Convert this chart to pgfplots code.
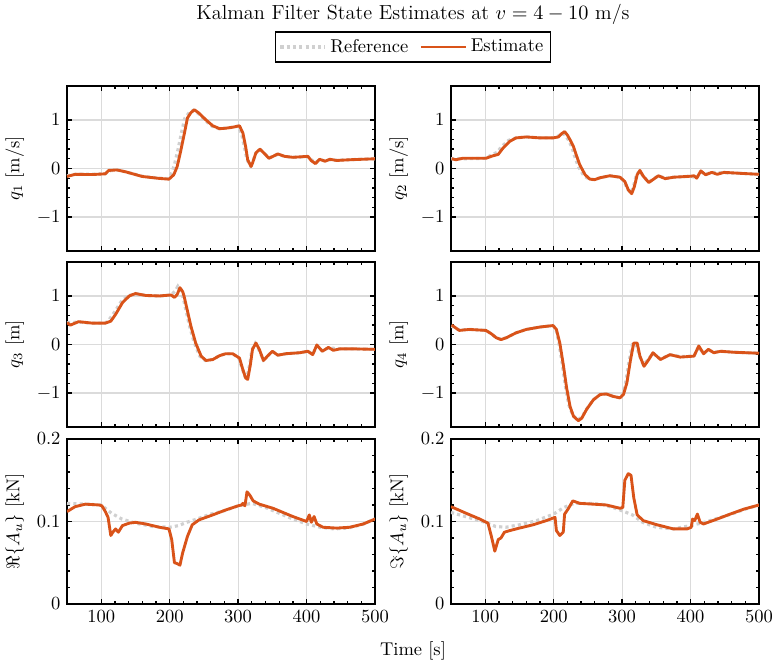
\documentclass[border=0pt]{standalone}
\usepackage{pgfplots}
\pgfplotsset{compat=1.18}
\definecolor{estc}{RGB}{217,83,25}
\definecolor{refc}{RGB}{208,208,208}
\pgfplotsset{
  panel/.style={scale only axis, width=166.32pt, height=89.1pt,
    xmin=50, xmax=500, xtick={100,200,300,400,500}, minor x tick num=4,
    grid=major, major grid style={color=black!14, line width=0.65pt},
    tick align=inside, major tick length=2.6pt, minor tick length=1.5pt,
    axis line style={line width=1pt},
    every tick/.style={black, line width=0.7pt},
    no markers, clip=true, anchor=north west,
    ylabel style={font=\fontsize{10}{12}\selectfont},
    legend image code/.code={\draw[#1] (0cm,0cm) -- (0.85cm,0cm);}},
  qpanel/.style={panel, ymin=-1.7, ymax=1.7, ytick={-1,0,1}, minor y tick num=4},
  apanel/.style={panel, ymin=0, ymax=0.2, ytick={0,0.1,0.2}, yticklabels={0,0.1,0.2}, minor y tick num=4},
  est/.style={color=estc, line width=1.55pt, line join=round},
  ref/.style={color=refc, line width=1.7pt, dash pattern=on 1.7pt off 1.7pt},
}
\begin{document}
\begin{tikzpicture}
\useasboundingbox (0,0) rectangle (418.5pt,360.18pt);
\node[font=\fontsize{11}{13}\selectfont] at (223pt,352.6pt) {Kalman Filter State Estimates at $v = 4-10$ m/s};
\node[font=\fontsize{10}{12}\selectfont] at (223pt,8.6pt) {Time [s]};
% ---- q1
\begin{axis}[qpanel, at={(36.18pt,313.74pt)}, xticklabels={}, ylabel={$q_1$ [m/s]},
  legend columns=2, legend style={at={(1.123,1.236)}, anchor=center, draw=black, line width=0.7pt,
  font=\fontsize{10}{12}\selectfont, inner sep=1.8pt, row sep=0pt, /tikz/every even column/.append style={column sep=4pt}}]
\addplot[ref] table {
50 -0.15
62 -0.12
87 -0.12
106 -0.11
111 -0.05
123 -0.03
136 -0.07
160 -0.16
185 -0.20
197 -0.21
202 -0.12
207 0.08
212 0.38
217 0.72
222 1.03
229 1.16
235 1.20
242 1.13
252 0.99
262 0.87
272 0.82
282 0.83
292 0.85
300 0.87
305 0.72
309 0.45
313 0.18
318 0.06
321 0.12
326 0.32
332 0.39
339 0.30
345 0.22
351 0.25
358 0.29
368 0.25
380 0.23
402 0.24
408 0.17
413 0.12
419 0.18
427 0.16
434 0.18
444 0.17
463 0.18
500 0.20
};
\addlegendentry{Reference}
\addplot[est] table {
50 -0.165
62 -0.12
87 -0.125
106 -0.11
111 -0.04
123 -0.03
136 -0.07
160 -0.165
185 -0.205
199 -0.22
206 -0.13
211 0.04
216 0.35
221 0.69
226 1.04
231 1.15
236 1.21
243 1.14
253 1.00
263 0.88
273 0.82
282 0.83
292 0.85
302 0.88
307 0.73
311 0.45
314 0.18
319 0.04
321 0.11
326 0.32
332 0.40
339 0.30
345 0.21
351 0.25
358 0.30
368 0.25
380 0.23
402 0.25
407 0.16
413 0.10
419 0.19
427 0.15
434 0.19
444 0.165
463 0.18
500 0.20
};
\addlegendentry{Estimate}
\end{axis}
% ---- q2
\begin{axis}[qpanel, at={(243.54pt,313.74pt)}, xticklabels={}, ylabel={$q_2$ [m/s]}]
\addplot[ref] table {
50 0.20
67 0.20
101 0.21
109 0.28
117 0.33
124 0.45
134 0.58
145 0.63
160 0.65
180 0.63
199 0.63
206 0.66
211 0.72
216 0.70
222 0.58
227 0.42
231 0.24
236 0.04
244 -0.15
252 -0.22
260 -0.23
268 -0.19
282 -0.15
297 -0.18
303 -0.27
308 -0.43
313 -0.50
317 -0.35
321 -0.12
326 -0.05
331 -0.17
339 -0.28
346 -0.21
353 -0.15
363 -0.20
375 -0.18
400 -0.16
409 -0.19
415 -0.07
422 -0.12
431 -0.08
449 -0.09
473 -0.10
500 -0.12
};
\addplot[est] table {
51 0.20
57 0.18
67 0.21
82 0.21
101 0.21
111 0.26
119 0.29
126 0.42
136 0.56
145 0.63
160 0.65
180 0.63
199 0.63
207 0.65
211 0.71
216 0.76
220 0.69
224 0.59
229 0.45
233 0.28
238 0.08
246 -0.13
253 -0.22
260 -0.23
268 -0.19
282 -0.15
297 -0.18
304 -0.27
309 -0.44
314 -0.52
318 -0.37
322 -0.13
326 -0.04
331 -0.16
339 -0.29
346 -0.22
353 -0.15
363 -0.21
375 -0.18
400 -0.16
405 -0.15
409 -0.20
415 -0.05
422 -0.13
431 -0.08
439 -0.12
449 -0.08
473 -0.10
500 -0.12
};
\end{axis}
% ---- q3
\begin{axis}[qpanel, at={(36.18pt,218.7pt)}, xticklabels={}, ylabel={$q_3$ [m]}]
\addplot[ref] table {
50 0.45
67 0.46
87 0.44
106 0.44
112 0.52
119 0.66
129 0.88
139 1.00
150 1.05
165 1.01
185 1.00
202 1.02
208 1.10
212 1.20
216 1.12
220 0.95
224 0.69
229 0.38
236 0.03
244 -0.24
252 -0.33
262 -0.31
273 -0.23
282 -0.19
292 -0.19
301 -0.28
306 -0.50
310 -0.66
313 -0.68
317 -0.41
320 -0.12
325 0.02
330 -0.10
337 -0.32
343 -0.24
350 -0.14
358 -0.22
370 -0.19
390 -0.17
402 -0.14
409 -0.20
415 -0.03
423 -0.13
432 -0.07
449 -0.09
468 -0.09
500 -0.10
};
\addplot[est] table {
50 0.45
55 0.40
67 0.47
87 0.44
106 0.44
114 0.48
121 0.62
131 0.86
141 1.00
150 1.05
165 1.01
185 1.00
202 1.02
207 0.97
211 1.03
215 1.17
219 1.09
221 1.00
226 0.69
231 0.38
238 0.03
246 -0.24
253 -0.33
263 -0.31
273 -0.23
282 -0.19
292 -0.19
302 -0.28
307 -0.52
311 -0.69
314 -0.72
318 -0.41
321 -0.10
326 0.03
331 -0.10
337 -0.33
343 -0.24
350 -0.14
358 -0.22
370 -0.19
390 -0.17
402 -0.14
409 -0.21
415 -0.01
423 -0.14
432 -0.06
439 -0.12
449 -0.09
468 -0.09
500 -0.10
};
\end{axis}
% ---- q4
\begin{axis}[qpanel, at={(243.54pt,218.7pt)}, xticklabels={}, ylabel={$q_4$ [m]}]
\addplot[ref] table {
50 0.38
62 0.30
77 0.31
101 0.29
109 0.22
116 0.14
123 0.11
131 0.14
145 0.24
160 0.31
180 0.36
199 0.39
203 0.33
207 0.08
212 -0.35
217 -0.85
222 -1.24
228 -1.46
235 -1.55
241 -1.50
248 -1.33
258 -1.14
268 -1.03
277 -1.02
287 -1.07
297 -1.10
301 -1.02
305 -0.80
310 -0.36
315 0.00
320 0.02
325 -0.22
331 -0.42
338 -0.31
345 -0.18
356 -0.30
370 -0.21
385 -0.25
405 -0.24
412 -0.05
419 -0.19
426 -0.11
434 -0.16
444 -0.14
463 -0.16
500 -0.18
};
\addplot[est] table {
51 0.40
62 0.29
77 0.31
101 0.29
109 0.22
116 0.14
123 0.10
131 0.14
145 0.24
160 0.31
180 0.36
199 0.39
204 0.31
209 0.03
214 -0.41
219 -0.90
224 -1.28
229 -1.48
236 -1.57
241 -1.52
248 -1.34
258 -1.14
268 -1.03
277 -1.02
287 -1.07
297 -1.10
302 -1.03
307 -0.79
312 -0.34
317 0.03
322 0.03
326 -0.24
332 -0.45
339 -0.31
345 -0.17
356 -0.31
370 -0.21
385 -0.26
405 -0.24
412 -0.03
419 -0.19
426 -0.10
434 -0.17
444 -0.14
463 -0.16
500 -0.18
};
\end{axis}
% ---- Re{Au}
\begin{axis}[apanel, at={(36.18pt,123.12pt)}, ylabel={$\Re\{A_u\}$ [kN]}]
\addplot[ref] table {
50 0.122
77 0.121
100 0.120
115 0.110
130 0.103
150 0.098
175 0.094
200 0.093
213 0.095
225 0.099
240 0.103
260 0.109
280 0.113
300 0.119
320 0.122
340 0.117
360 0.110
380 0.103
400 0.097
420 0.093
440 0.091
460 0.092
480 0.096
500 0.103
};
\addplot[est] table {
50 0.112
62 0.118
77 0.121
97 0.120
101 0.119
106 0.112
110 0.105
114 0.083
117 0.087
121 0.091
125 0.087
131 0.095
141 0.098
150 0.099
165 0.097
185 0.093
199 0.091
203 0.078
207 0.050
211 0.049
215 0.047
219 0.062
226 0.082
233 0.096
243 0.102
263 0.108
282 0.114
300 0.119
305 0.120
307 0.122
310 0.119
313 0.136
317 0.132
322 0.125
331 0.121
351 0.116
380 0.106
400 0.100
404 0.108
407 0.099
411 0.106
415 0.097
424 0.093
444 0.092
463 0.093
483 0.097
500 0.103
};
\end{axis}
% ---- Im{Au}
\begin{axis}[apanel, at={(243.54pt,123.12pt)}, ylabel={$\Im\{A_u\}$ [kN]}]
\addplot[ref] table {
50 0.111
75 0.105
100 0.099
115 0.094
130 0.093
150 0.096
175 0.101
200 0.109
215 0.117
230 0.122
250 0.122
270 0.121
290 0.116
300 0.113
315 0.108
330 0.099
350 0.093
375 0.091
400 0.095
420 0.099
440 0.104
460 0.109
480 0.115
500 0.120
};
\addplot[est] table {
50 0.118
72 0.110
92 0.103
104 0.098
109 0.082
114 0.064
119 0.078
123 0.080
128 0.087
136 0.089
150 0.092
170 0.096
189 0.101
202 0.105
204 0.089
209 0.083
214 0.087
216 0.109
221 0.115
228 0.125
238 0.122
258 0.121
277 0.120
297 0.116
301 0.117
304 0.150
309 0.158
313 0.156
317 0.129
322 0.108
331 0.101
351 0.096
375 0.091
395 0.091
401 0.093
403 0.103
406 0.101
410 0.109
414 0.099
419 0.097
439 0.103
458 0.109
478 0.115
500 0.120
};
\end{axis}
\end{tikzpicture}
\end{document}
